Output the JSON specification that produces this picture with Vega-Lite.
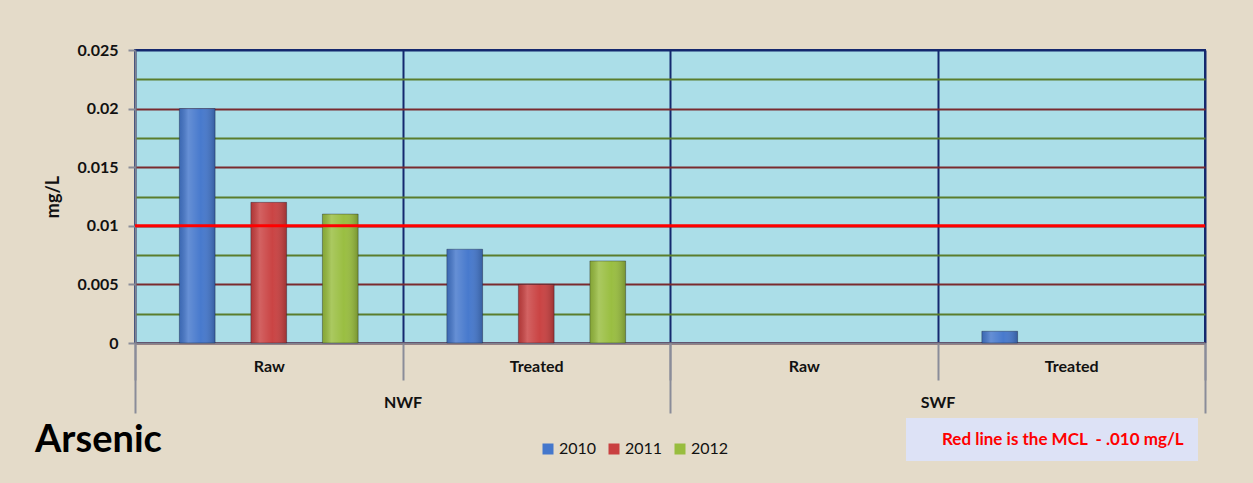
{
  "$schema": "https://vega.github.io/schema/vega-lite/v6.json",
  "width": 1070,
  "height": 293,
  "autosize": {"type": "none"},
  "padding": {"left": 135, "top": 50, "right": 48, "bottom": 140},
  "background": "#e4dbc9",
  "config": {
    "font": "Lato",
    "view": {"fill": "#abdee8", "stroke": "#14286e", "strokeWidth": 2}
  },
  "title": {
    "text": "Arsenic",
    "orient": "bottom",
    "anchor": "start",
    "frame": "group",
    "dx": -100,
    "offset": -39,
    "fontSize": 38,
    "fontWeight": "bold",
    "color": "#000000",
    "font": "Lato"
  },
  "datasets": {
    "arsenic": [
      {"site": "NWF", "type": "Raw", "group": "NWF|Raw", "year": "2010", "value": 0.02},
      {"site": "NWF", "type": "Raw", "group": "NWF|Raw", "year": "2011", "value": 0.012},
      {"site": "NWF", "type": "Raw", "group": "NWF|Raw", "year": "2012", "value": 0.011},
      {"site": "NWF", "type": "Treated", "group": "NWF|Treated", "year": "2010", "value": 0.008},
      {"site": "NWF", "type": "Treated", "group": "NWF|Treated", "year": "2011", "value": 0.005},
      {"site": "NWF", "type": "Treated", "group": "NWF|Treated", "year": "2012", "value": 0.007},
      {"site": "SWF", "type": "Treated", "group": "SWF|Treated", "year": "2010", "value": 0.001}
    ],
    "mcl": [
      {"limit": 0.01, "note": "Red line is the MCL \u00a0- .010 mg/L"}
    ]
  },
  "layer": [
    {
      "data": {"name": "arsenic"},
      "layer": [
        {
          "mark": {"type": "bar", "stroke": null},
          "encoding": {
            "x": {
              "field": "group", "type": "nominal",
              "scale": {"domain": ["NWF|Raw", "NWF|Treated", "SWF|Raw", "SWF|Treated"], "paddingInner": 0, "paddingOuter": 0},
              "axis": {
                "orient": "bottom",
                "title": null,
                "labelAngle": 0,
                "labelExpr": "split(datum.label, '|')[1]",
                "labelFont": "Lato",
                "labelFontSize": 16,
                "labelFontWeight": "bold",
                "labelColor": "#111111",
                "labelPadding": -22,
                "tickBand": "extent",
                "tickSize": 37,
                "tickColor": "#8a8c99",
                "tickWidth": 2,
                "domainColor": "#7f8290",
                "domainWidth": 2,
                "grid": true,
                "gridColor": "#14286e",
                "gridWidth": 2
              }
            },
            "xOffset": {
              "field": "year", "type": "nominal",
              "scale": {"domain": ["2010", "2011", "2012"], "paddingInner": 0.5, "paddingOuter": 0.62}
            },
            "y": {
              "field": "value", "type": "quantitative",
              "scale": {"domain": [0, 0.025], "nice": false},
              "axis": {
                "title": "mg/L",
                "titleFont": "Lato",
                "titleFontSize": 18,
                "titleFontWeight": "bold",
                "titleColor": "#111111",
                "titlePadding": 15,
                "values": [0, 0.0025, 0.005, 0.0075, 0.01, 0.0125, 0.015, 0.0175, 0.02, 0.0225, 0.025],
                "tickCount": 20,
                "format": ".3~f",
                "labelExpr": "round(datum.value * 400) % 2 == 0 ? datum.label : ''",
                "labelFont": "Lato",
                "labelFontSize": 16,
                "labelFontWeight": "bold",
                "labelColor": "#111111",
                "labelPadding": 10,
                "tickSize": 7,
                "tickWidth": 2,
                "tickColor": {"condition": {"test": "round(datum.value * 400) % 2 == 0", "value": "#8a8c99"}, "value": "transparent"},
                "domainColor": "#7f8290",
                "domainWidth": 2,
                "grid": true,
                "gridWidth": 2,
                "gridColor": {"condition": [{"test": "datum.value > 0.0245", "value": "#14286e"}, {"test": "round(datum.value * 400) % 2 == 0", "value": "#7a2a2e"}], "value": "#5a7d2c"}
              }
            },
            "fill": {
              "field": "year", "type": "nominal",
              "scale": {"domain": ["2010", "2011", "2012"], "range": ["#4477cc", "#c94040", "#98bd3e"]},
              "legend": {
                "orient": "none",
                "legendX": 405,
                "legendY": 391,
                "direction": "horizontal",
                "title": null,
                "symbolType": "square",
                "symbolSize": 121,
                "symbolStrokeWidth": 0,
                "labelFont": "Lato",
                "labelFontSize": 16,
                "labelColor": "#111111",
                "labelOffset": 3,
                "columnPadding": 9
              }
            }
          }
        },
        {
          "mark": {
            "type": "bar",
            "stroke": "rgba(20,20,40,0.35)",
            "strokeWidth": 1,
            "fill": {
              "gradient": "linear", "x1": 0, "x2": 1, "y1": 0, "y2": 0,
              "stops": [
                {"offset": 0, "color": "rgba(0,0,0,0.12)"},
                {"offset": 0.25, "color": "rgba(255,255,255,0.18)"},
                {"offset": 0.6, "color": "rgba(255,255,255,0.02)"},
                {"offset": 1, "color": "rgba(0,0,0,0.22)"}
              ]
            }
          },
          "encoding": {
            "x": {"field": "group", "type": "nominal"},
            "xOffset": {"field": "year", "type": "nominal"},
            "y": {"field": "value", "type": "quantitative"}
          }
        }
      ]
    },
    {
      "data": {"name": "arsenic"},
      "mark": {"type": "rule", "opacity": 0},
      "encoding": {
        "x": {
          "field": "site", "type": "nominal",
          "scale": {"domain": ["NWF", "SWF"], "paddingInner": 0, "paddingOuter": 0},
          "axis": {
            "orient": "bottom",
            "title": null,
            "labelAngle": 0,
            "labelFont": "Lato",
            "labelFontSize": 16,
            "labelFontWeight": "bold",
            "labelColor": "#111111",
            "labelPadding": -19,
            "tickBand": "extent",
            "tickSize": 70,
            "tickColor": "#8a8c99",
            "tickWidth": 2,
            "domain": false,
            "grid": false
          }
        }
      }
    },
    {
      "data": {"name": "mcl"},
      "mark": {"type": "rule", "strokeWidth": 3},
      "encoding": {
        "y": {"field": "limit", "type": "quantitative"},
        "stroke": {
          "field": "note", "type": "nominal",
          "scale": {"range": ["#ff0000"]},
          "legend": {
            "orient": "none",
            "legendX": 771,
            "legendY": 368,
            "title": null,
            "fillColor": "#dde2f6",
            "padding": 13,
            "symbolSize": 0,
            "symbolOpacity": 0,
            "labelOffset": 6,
            "labelFont": "Lato",
            "labelFontSize": 17,
            "labelFontWeight": "bold",
            "labelColor": "#ff0000",
            "labelLimit": 400
          }
        }
      }
    }
  ],
  "resolve": {"scale": {"x": "independent"}, "axis": {"x": "independent"}}
}
